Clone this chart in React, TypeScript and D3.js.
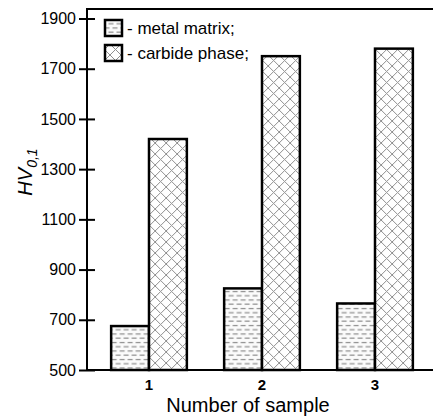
import { useEffect, useRef } from "react";
import * as d3 from "d3";

const samples = ["1", "2", "3"];
const metalMatrix = [675, 825, 765];
const carbidePhase = [1420, 1750, 1780];
const yTicks = [500, 700, 900, 1100, 1300, 1500, 1700, 1900];
const seriesNames = ["- metal matrix;", "- carbide phase;"];

const W = 433;
const H = 417;
const font = "'Liberation Sans', Arial, sans-serif";

export default function App() {
    const ref = useRef<SVGSVGElement>(null);

    useEffect(() => {
        const svg = d3.select(ref.current);
        svg.selectAll("*").remove();

        const left = 87;
        const right = 433;
        const top = 9;
        const bottom = 370;

        const yScale = d3.scaleLinear().domain([500, 1900]).range([bottom, 18.5]);
        const xScale = d3.scaleBand()
            .domain(samples)
            .range([92.5, 431.5])
            .paddingInner(0.33)
            .paddingOuter(0.165);
        const inner = d3.scaleBand()
            .domain(["matrix", "carbide"])
            .range([0, xScale.bandwidth()]);

        // patterns
        const defs = svg.append("defs");
        const dash = defs.append("pattern")
            .attr("id", "dashes")
            .attr("patternUnits", "userSpaceOnUse")
            .attr("width", 8)
            .attr("height", 8.5);
        dash.append("rect").attr("width", 8).attr("height", 8.5).attr("fill", "#fbfbfb");
        dash.append("path")
            .attr("d", "M0.5,2.5H5.5M4.5,6.75H8M0,6.75H1.5")
            .attr("stroke", "#8a8a8a")
            .attr("stroke-width", 1);

        const cross = defs.append("pattern")
            .attr("id", "cross")
            .attr("patternUnits", "userSpaceOnUse")
            .attr("width", 11)
            .attr("height", 11);
        cross.append("rect").attr("width", 11).attr("height", 11).attr("fill", "#fff");
        cross.append("path")
            .attr("d", "M0,0L11,11M0,11L11,0")
            .attr("stroke", "#8f8f8f")
            .attr("stroke-width", 1);

        // bars
        const groups = svg.append("g")
            .selectAll("g")
            .data(samples)
            .enter()
            .append("g")
            .attr("transform", d => `translate(${xScale(d)},0)`);

        groups.append("rect")
            .attr("x", inner("matrix")!)
            .attr("y", (d, i) => yScale(metalMatrix[i]))
            .attr("width", inner.bandwidth())
            .attr("height", (d, i) => bottom - yScale(metalMatrix[i]))
            .attr("fill", "url(#dashes)")
            .attr("stroke", "#000")
            .attr("stroke-width", 2.5);

        groups.append("rect")
            .attr("x", inner("carbide")!)
            .attr("y", (d, i) => yScale(carbidePhase[i]))
            .attr("width", inner.bandwidth())
            .attr("height", (d, i) => bottom - yScale(carbidePhase[i]))
            .attr("fill", "url(#cross)")
            .attr("stroke", "#000")
            .attr("stroke-width", 2.5);

        // frame lines
        svg.append("line")
            .attr("x1", left).attr("x2", right)
            .attr("y1", top).attr("y2", top)
            .attr("stroke", "#000").attr("stroke-width", 2);
        svg.append("line")
            .attr("x1", left).attr("x2", right)
            .attr("y1", bottom).attr("y2", bottom)
            .attr("stroke", "#000").attr("stroke-width", 2);
        svg.append("line")
            .attr("x1", left).attr("x2", left)
            .attr("y1", top - 1).attr("y2", bottom + 1)
            .attr("stroke", "#000").attr("stroke-width", 2);

        // y axis
        const yAxis = d3.axisLeft(yScale)
            .tickValues(yTicks)
            .tickFormat(d3.format("d"))
            .tickSizeOuter(0)
            .tickPadding(4);
        const yg = svg.append("g")
            .attr("transform", `translate(${left},0)`)
            .call(yAxis);
        yg.select(".domain").remove();
        yg.selectAll(".tick line")
            .attr("x1", -8).attr("x2", 8)
            .attr("stroke", "#000").attr("stroke-width", 2);
        yg.selectAll(".tick text")
            .attr("x", -11)
            .attr("font-family", font)
            .attr("font-size", 16)
            .attr("fill", "#000");

        // x tick labels
        svg.append("g")
            .selectAll("text")
            .data(samples)
            .enter()
            .append("text")
            .attr("x", d => xScale(d)! + xScale.bandwidth() / 2)
            .attr("y", 390)
            .attr("text-anchor", "middle")
            .attr("font-family", font)
            .attr("font-weight", "bold")
            .attr("font-size", 15)
            .text(d => d);

        // axis titles
        svg.append("text")
            .attr("x", 248)
            .attr("y", 412)
            .attr("text-anchor", "middle")
            .attr("font-family", font)
            .attr("font-size", 20)
            .text("Number of sample");

        const yt = svg.append("text")
            .attr("transform", "translate(32,172) rotate(-90)")
            .attr("text-anchor", "middle")
            .attr("font-family", font)
            .attr("font-style", "italic")
            .attr("font-size", 20);
        yt.append("tspan").text("HV");
        yt.append("tspan")
            .attr("font-size", 14)
            .attr("dy", 5)
            .text("0,1");

        // legend
        const legend = svg.append("g");
        const fills = ["url(#dashes)", "url(#cross)"];
        seriesNames.forEach((name, i) => {
            const y0 = 20 + i * 25;
            legend.append("rect")
                .attr("x", 105).attr("y", y0)
                .attr("width", 17).attr("height", 16)
                .attr("fill", fills[i])
                .attr("stroke", "#000")
                .attr("stroke-width", 2.5);
            legend.append("text")
                .attr("x", 127)
                .attr("y", y0 + 14)
                .attr("font-family", font)
                .attr("font-size", 17)
                .text(name);
        });
    }, []);

    return (
        <svg
            ref={ref}
            width={W}
            height={H}
            style={{ position: "absolute", left: 0, top: 0, background: "#fff" }}
        ></svg>
    );
}
